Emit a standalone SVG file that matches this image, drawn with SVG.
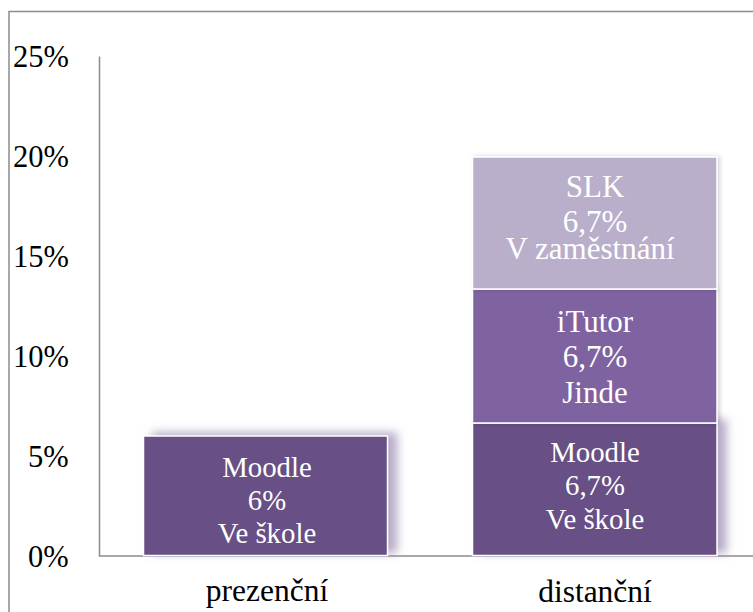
<svg xmlns="http://www.w3.org/2000/svg" width="753" height="612" viewBox="0 0 753 612">
<defs>
<style>
text{font-family:'Liberation Serif','Times New Roman',Times,'DejaVu Serif',serif}
.ax{font-size:30.5px;fill:#000}
.cat{font-size:31.5px;fill:#000;text-anchor:middle}
.lb{fill:#fff;text-anchor:middle}
.m{font-size:28.8px}
.u{font-size:31px}
.line{stroke:#8c8c8c;stroke-width:1.5;fill:none}
.seg{stroke:#fff;stroke-width:1.5}
</style>
<filter id="shM" x="-20%" y="-30%" width="150%" height="160%">
<feGaussianBlur in="SourceAlpha" stdDeviation="5"/>
<feOffset dx="9" dy="-3" result="b"/>
<feFlood flood-color="#a597ba" flood-opacity="0.8"/>
<feComposite in2="b" operator="in"/>
<feMerge><feMergeNode/><feMergeNode in="SourceGraphic"/></feMerge>
</filter>
<filter id="shU" x="-10%" y="-10%" width="120%" height="120%">
<feGaussianBlur in="SourceAlpha" stdDeviation="2"/>
<feOffset dx="2" dy="0" result="b"/>
<feFlood flood-color="#000" flood-opacity="0.18"/>
<feComposite in2="b" operator="in"/>
<feMerge><feMergeNode/><feMergeNode in="SourceGraphic"/></feMerge>
</filter>
</defs>
<rect width="753" height="612" fill="#fff"/>
<path class="line" d="M9,612 V11.5 H753"/>
<g id="axes" font-family="Liberation Serif, serif">
<path class="line" d="M99.5,56.5 V556 H753"/>
<text class="ax" x="13" y="67">25%</text>
<text class="ax" x="13" y="167">20%</text>
<text class="ax" x="13" y="267">15%</text>
<text class="ax" x="13" y="367">10%</text>
<text class="ax" x="28" y="467">5%</text>
<text class="ax" x="28" y="567">0%</text>
<text class="cat" x="267" y="601">prezenční</text>
<text class="cat" x="595" y="602">distanční</text>
</g>
<g id="bar-prezencni-moodle" filter="url(#shM)">
<rect class="seg" x="143.5" y="436" width="244" height="119.5" fill="#674f85"/>
</g>
<g id="bar-distancni-moodle" filter="url(#shM)">
<rect class="seg" x="472.5" y="423" width="244.5" height="132.5" fill="#674f85"/>
</g>
<g id="bar-distancni-itutor" filter="url(#shU)">
<rect class="seg" x="472.5" y="289" width="244.5" height="134" fill="#7f63a0"/>
</g>
<g id="bar-distancni-slk" filter="url(#shU)">
<rect class="seg" x="472.5" y="157" width="244.5" height="132" fill="#b9afcb"/>
</g>
<g id="labels" font-family="Liberation Serif, serif">
<text class="lb m" x="267" y="477">Moodle</text>
<text class="lb m" x="267" y="510">6%</text>
<text class="lb m" x="267" y="543">Ve škole</text>
<text class="lb m" x="595" y="462">Moodle</text>
<text class="lb m" x="595" y="495">6,7%</text>
<text class="lb m" x="595" y="529">Ve škole</text>
<text class="lb u" x="595" y="332">iTutor</text>
<text class="lb u" x="595" y="367">6,7%</text>
<text class="lb u" x="595" y="403">Jinde</text>
<text class="lb u" x="595" y="197">SLK</text>
<text class="lb u" x="595" y="232">6,7%</text>
<text class="lb u" x="590" y="259">V zaměstnání</text>
</g>
</svg>
